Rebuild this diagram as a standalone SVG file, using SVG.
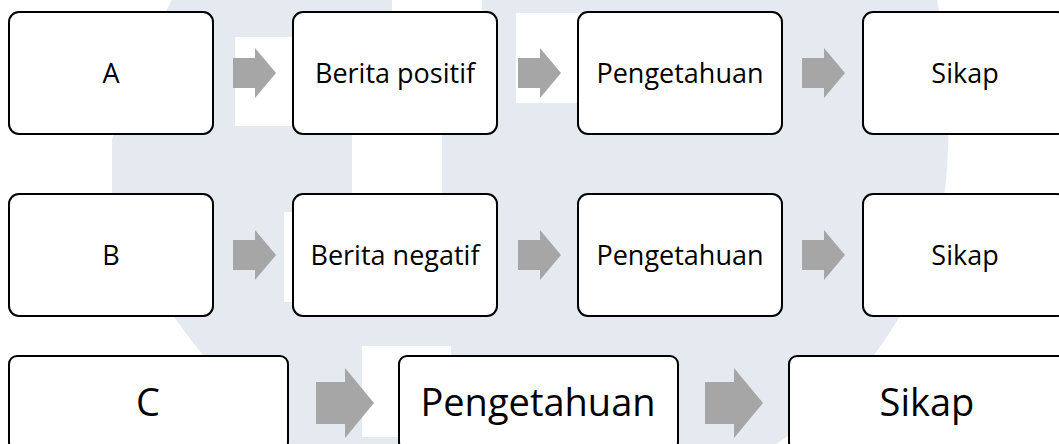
<svg xmlns="http://www.w3.org/2000/svg" width="1059" height="444" viewBox="0 0 1059 444">
<style>
.box{fill:#fff;stroke:#000;stroke-width:2}
.t{font-family:"Open Sans","Liberation Sans",sans-serif;font-size:27px;fill:#000;text-anchor:middle}
.t3{font-family:"Open Sans","Liberation Sans",sans-serif;font-size:38px;fill:#000;text-anchor:middle}
.arr{fill:#A6A6A6}
.wm{fill:#E5E9F0}
.wh{fill:#fff}
</style>
<defs>
<path id="a1" d="M0,-15 H22 V-25 L43,0 L22,25 V15 H0 Z"/>
<path id="a3" d="M0,-21 H29 V-35 L58,0 L29,35 V21 H0 Z"/>
</defs>
<rect width="1059" height="444" fill="#fff"/>
<g id="watermark">
<path class="wm" d="M172,0 L937,0 C948,60 952,130 945,190 C935,270 880,380 776,444 L290,444 C240,400 205,360 180,325 C150,285 112,245 112,190 L112,140 L150,40 Z"/>
<rect class="wh" x="235" y="37" width="117" height="89"/>
<rect class="wh" x="516" y="13" width="90" height="90"/>
<rect class="wh" x="392" y="0" width="90" height="12"/>
<rect class="wh" x="352" y="134" width="90" height="60"/>
<rect class="wh" x="284" y="212" width="60" height="90"/>
<rect class="wh" x="362" y="346" width="89" height="91"/>
</g>
<g id="connectors">
<use href="#a1" class="arr" x="233" y="73"/>
<use href="#a1" class="arr" x="518" y="73"/>
<use href="#a1" class="arr" x="802" y="73"/>
<use href="#a1" class="arr" x="233" y="255"/>
<use href="#a1" class="arr" x="518" y="255"/>
<use href="#a1" class="arr" x="802" y="255"/>
<use href="#a3" class="arr" x="316" y="403"/>
<use href="#a3" class="arr" x="705" y="403"/>
</g>
<g id="nodeA"><rect class="box" x="9" y="12" width="204" height="122" rx="10"/><text class="t" x="111" y="83">A</text></g>
<g id="nodeA2"><rect class="box" x="293" y="12" width="204" height="122" rx="10"/><text class="t" x="395" y="83">Berita positif</text></g>
<g id="nodeA3"><rect class="box" x="578" y="12" width="204" height="122" rx="10"/><text class="t" x="680" y="83">Pengetahuan</text></g>
<g id="nodeA4"><rect class="box" x="863" y="12" width="204" height="122" rx="10"/><text class="t" x="965" y="83">Sikap</text></g>
<g id="nodeB"><rect class="box" x="9" y="194" width="204" height="122" rx="10"/><text class="t" x="111" y="265">B</text></g>
<g id="nodeB2"><rect class="box" x="293" y="194" width="204" height="122" rx="10"/><text class="t" x="395" y="265">Berita negatif</text></g>
<g id="nodeB3"><rect class="box" x="578" y="194" width="204" height="122" rx="10"/><text class="t" x="680" y="265">Pengetahuan</text></g>
<g id="nodeB4"><rect class="box" x="863" y="194" width="204" height="122" rx="10"/><text class="t" x="965" y="265">Sikap</text></g>
<g id="nodeC"><rect class="box" x="9" y="356" width="279" height="94" rx="8"/><text class="t3" x="148" y="416">C</text></g>
<g id="nodeC2"><rect class="box" x="399" y="356" width="279" height="94" rx="8"/><text class="t3" x="538" y="416">Pengetahuan</text></g>
<g id="nodeC3"><rect class="box" x="789" y="356" width="277" height="94" rx="8"/><text class="t3" x="927" y="416">Sikap</text></g>
</svg>
